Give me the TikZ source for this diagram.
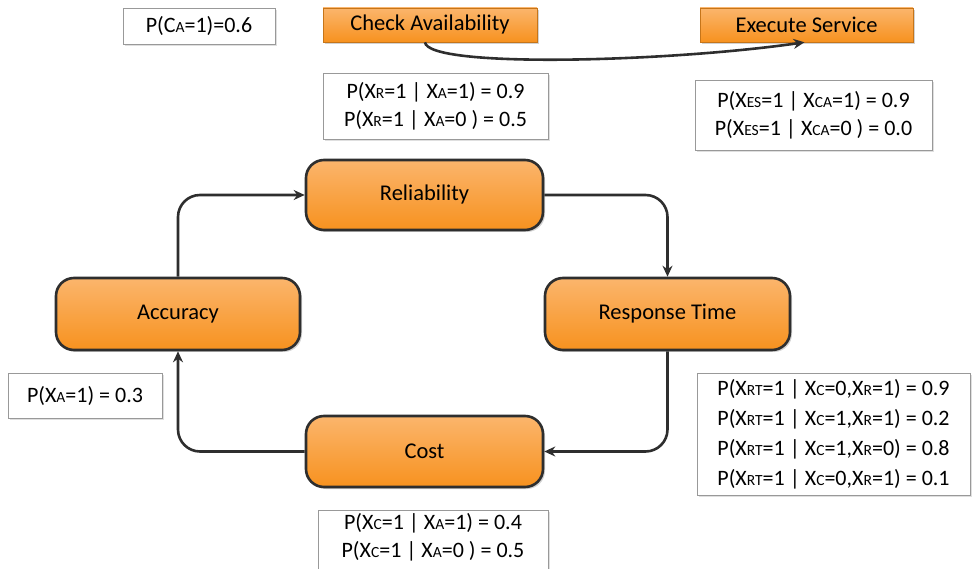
\documentclass[tikz,border=0pt]{standalone}
\usepackage{fontspec}
\setmainfont{Carlito}
\usetikzlibrary{shadows,arrows.meta}
\definecolor{orgtop}{HTML}{FBB56C}
\definecolor{orgbot}{HTML}{F7921F}
\definecolor{edge}{HTML}{2E2E2E}
\newcommand\sm[1]{{\fontsize{15.5}{15.5}\selectfont #1}}
\tikzset{
  state/.style={rounded corners=18pt, draw=edge, line width=2.6pt, top color=orgtop, bottom color=orgbot,
    font=\fontsize{22.5}{24}\selectfont, drop shadow={shadow xshift=2pt,shadow yshift=-2pt,fill=black!35}},
  task/.style={draw=orgbot!80!black, line width=0.6pt, top color=orgtop, bottom color=orgbot,
    font=\fontsize{22.5}{24}\selectfont, drop shadow={shadow xshift=2pt,shadow yshift=-2pt,fill=black!35}},
  prob/.style={draw=black!40, line width=0.8pt, fill=white, align=center,
    font=\fontsize{22}{28}\selectfont, drop shadow={shadow xshift=2pt,shadow yshift=-2pt,fill=black!25}},
  link/.style={draw=edge, line width=2.6pt, rounded corners=22pt, -{Stealth[length=11pt,width=10pt]}},
}
\begin{document}
\begin{tikzpicture}[x=1pt,y=-1pt]
\useasboundingbox (0,0) rectangle (975,569);
% top row
\node[prob, minimum width=152pt, minimum height=36pt] (ca) at (199,26) {P(C\sm{A}=1)=0.6};
\node[task, minimum width=214pt, minimum height=34pt] (check) at (430,25) {Check Availability};
\node[task, minimum width=213pt, minimum height=34pt] (exec) at (806.5,25) {Execute Service};
\node[prob, minimum width=225pt, minimum height=66pt] (pr) at (435.5,106)
  {P(X\sm{R}=1 | X\sm{A}=1) = 0.9\\P(X\sm{R}=1 | X\sm{A}=0 ) = 0.5};
\node[prob, minimum width=237pt, minimum height=70pt] (pes) at (813.5,115)
  {P(X\sm{ES}=1 | X\sm{CA}=1) = 0.9\\P(X\sm{ES}=1 | X\sm{CA}=0 ) = 0.0};
% cycle
\node[state, minimum width=237pt, minimum height=70pt] (rel) at (424.5,195) {Reliability};
\node[state, minimum width=244pt, minimum height=72pt] (acc) at (178,314) {Accuracy};
\node[state, minimum width=245pt, minimum height=72pt] (rt) at (667.5,314) {Response Time};
\node[state, minimum width=237pt, minimum height=71pt] (cost) at (424.5,451.5) {Cost};
\node[prob, minimum width=154pt, minimum height=45pt] (pa) at (85,395.5) {P(X\sm{A}=1) = 0.3};
\node[prob, font=\fontsize{22}{30}\selectfont, minimum width=273pt, minimum height=122pt] (prt) at (833.5,434)
  {P(X\sm{RT}=1 | X\sm{C}=0,X\sm{R}=1) = 0.9\\P(X\sm{RT}=1 | X\sm{C}=1,X\sm{R}=1) = 0.2\\P(X\sm{RT}=1 | X\sm{C}=1,X\sm{R}=0) = 0.8\\P(X\sm{RT}=1 | X\sm{C}=0,X\sm{R}=1) = 0.1};
\node[prob, minimum width=230pt, minimum height=72pt, anchor=north] (pc) at (433,510)
  {P(X\sm{C}=1 | X\sm{A}=1) = 0.4\\P(X\sm{C}=1 | X\sm{A}=0 ) = 0.5\\[4pt]};
% connectors
\draw[link] (acc.north) |- (rel.west);
\draw[link] (rel.east) -| (rt.north);
\draw[link] (rt.south) |- (cost.east);
\draw[link] (cost.west) -| (acc.south);
\draw[draw=edge, line width=2.6pt, -{Stealth[length=11pt,width=10pt]}]
  ([xshift=-5pt]check.south) .. controls +(3,26) and +(-140,20) .. ([xshift=-2pt]exec.south);
\end{tikzpicture}
\end{document}
